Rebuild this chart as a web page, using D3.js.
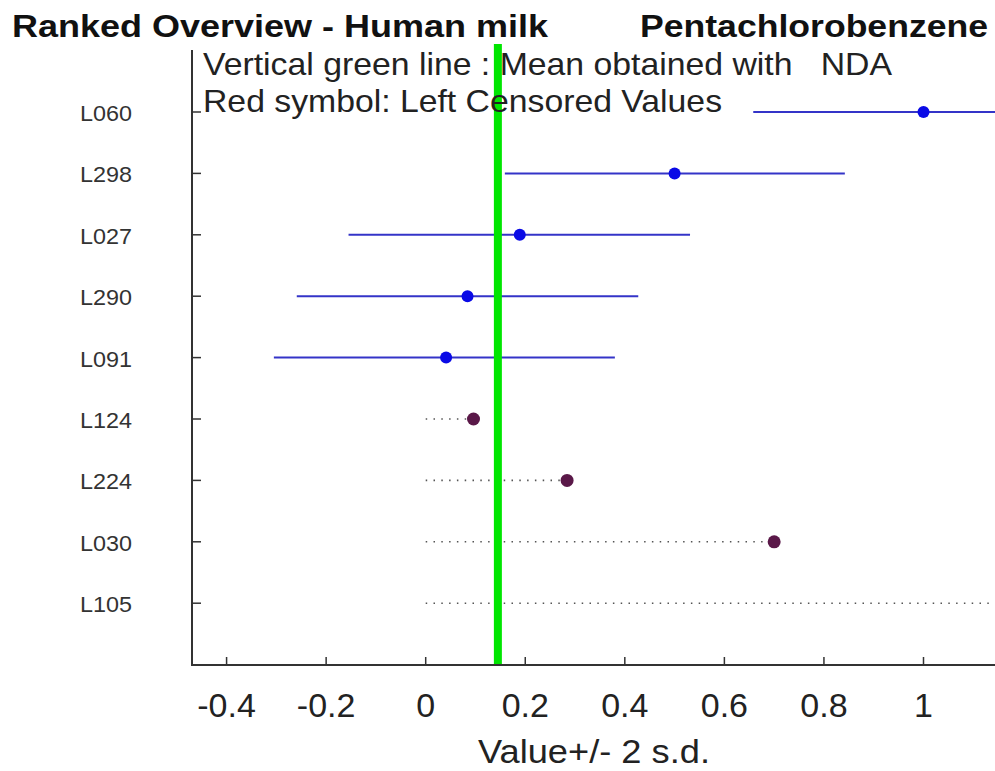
<!DOCTYPE html>
<html><head><meta charset="utf-8">
<script src="https://cdn.jsdelivr.net/npm/d3@7"></script>
<style>body{margin:0;background:#fff}svg{display:block}text{font-family:"Liberation Sans",Arial,sans-serif}</style>
</head><body><svg id="c" width="995" height="771"></svg>
<script>
// Labs in rank order (top to bottom)
const labs = ["L060","L298","L027","L290","L091","L124","L224","L030","L105"];
// Reported values
const values = [1.0, 0.50, 0.189, 0.084, 0.041, 0.096, 0.284, 0.70, 1.25];
// Lower / upper of +/- 2 s.d. bars (null for censored)
const lower = [0.658, 0.159, -0.155, -0.259, -0.305, null, null, null, null];
const upper = [1.342, 0.842, 0.531, 0.427, 0.380, null, null, null, null];
// Left-censored flags
const censored = [false,false,false,false,false,true,true,true,true];
const meanNDA = 0.145;
const xTicks = [-0.4,-0.2,0,0.2,0.4,0.6,0.8,1];

const svg = d3.select("#c");
const x = d3.scaleLinear().domain([0,1]).range([425.7,923.5]);
const y = d3.scaleLinear().domain([0,10]).range([50.6,664.6]);
const L = 192, R = 995, T = 50, B = 665;

svg.append("defs").append("clipPath").attr("id","clip")
  .append("rect").attr("x",L).attr("y",T-10).attr("width",R-L).attr("height",B-T+10);
const plot = svg.append("g").attr("clip-path","url(#clip)");

const rows = labs.map((d,i)=>({lab:d,v:values[i],lo:lower[i],hi:upper[i],c:censored[i],i}));

// dotted censored lines from 0 to value
plot.selectAll("line.cens").data(rows.filter(d=>d.c)).join("line")
  .attr("x1",x(0)).attr("x2",d=>x(d.v))
  .attr("y1",d=>y(d.i+1)).attr("y2",d=>y(d.i+1))
  .attr("stroke","#555").attr("stroke-width",1.6).attr("stroke-dasharray","1.5,6.3");

// error bars
plot.selectAll("line.err").data(rows.filter(d=>!d.c)).join("line")
  .attr("x1",d=>x(d.lo)).attr("x2",d=>x(d.hi))
  .attr("y1",d=>y(d.i+1)).attr("y2",d=>y(d.i+1))
  .attr("stroke","#3434c8").attr("stroke-width",2);

// green mean line
svg.append("line").attr("x1",x(meanNDA)).attr("x2",x(meanNDA)).attr("y1",44).attr("y2",B)
  .attr("stroke","#00e600").attr("stroke-width",8);

// points
plot.selectAll("circle").data(rows).join("circle")
  .attr("cx",d=>x(d.v)).attr("cy",d=>y(d.i+1)).attr("r",d=>d.c?6.5:6)
  .attr("fill",d=>d.c?"#5a1848":"#0a0ae6");

// axes
svg.append("line").attr("x1",L).attr("x2",L).attr("y1",T).attr("y2",B).attr("stroke","#333").attr("stroke-width",2);
svg.append("line").attr("x1",L-1).attr("x2",R).attr("y1",B).attr("y2",B).attr("stroke","#333").attr("stroke-width",2);

// y ticks + labels
svg.selectAll("line.yt").data(rows).join("line").attr("class","yt")
  .attr("x1",L).attr("x2",L+9).attr("y1",d=>y(d.i+1)).attr("y2",d=>y(d.i+1))
  .attr("stroke","#333").attr("stroke-width",1.5);
svg.selectAll("text.yl").data(rows).join("text").attr("class","yl")
  .attr("x",80).attr("y",d=>y(d.i+1)+1).attr("dy","0.36em")
  .attr("font-size",22).attr("textLength",52).attr("lengthAdjust","spacingAndGlyphs")
  .attr("fill","#333").text(d=>d.lab);

// x ticks + labels
svg.selectAll("line.xt").data(xTicks).join("line").attr("class","xt")
  .attr("x1",d=>x(d)).attr("x2",d=>x(d)).attr("y1",B).attr("y2",B-8)
  .attr("stroke","#333").attr("stroke-width",1.5);
svg.selectAll("text.xl").data(xTicks).join("text").attr("class","xl")
  .attr("x",d=>x(d)).attr("y",717).attr("text-anchor","middle")
  .attr("font-size",34).attr("fill","#222").text(d=>String(Math.round(d*10)/10));

svg.append("text").attr("x",594).attr("y",763).attr("text-anchor","middle")
  .attr("font-size",33).attr("textLength",232).attr("lengthAdjust","spacingAndGlyphs")
  .attr("fill","#222").text("Value+/- 2 s.d.");

// titles
svg.append("text").attr("x",12).attr("y",37).attr("font-size",32).attr("font-weight","bold")
  .attr("textLength",536).attr("lengthAdjust","spacingAndGlyphs").attr("fill","#111")
  .text("Ranked Overview - Human milk");
svg.append("text").attr("x",640).attr("y",37).attr("font-size",32).attr("font-weight","bold")
  .attr("textLength",348).attr("lengthAdjust","spacingAndGlyphs").attr("fill","#111")
  .text("Pentachlorobenzene");

// legend text
svg.append("text").attr("x",203).attr("y",75).attr("font-size",32).attr("fill","#222")
  .attr("textLength",689).attr("lengthAdjust","spacingAndGlyphs")
  .attr("xml:space","preserve").text("Vertical green line : Mean obtained with   NDA");
svg.append("text").attr("x",203).attr("y",112).attr("font-size",32).attr("fill","#222")
  .attr("textLength",519).attr("lengthAdjust","spacingAndGlyphs")
  .text("Red symbol: Left Censored Values");
</script></body></html>
